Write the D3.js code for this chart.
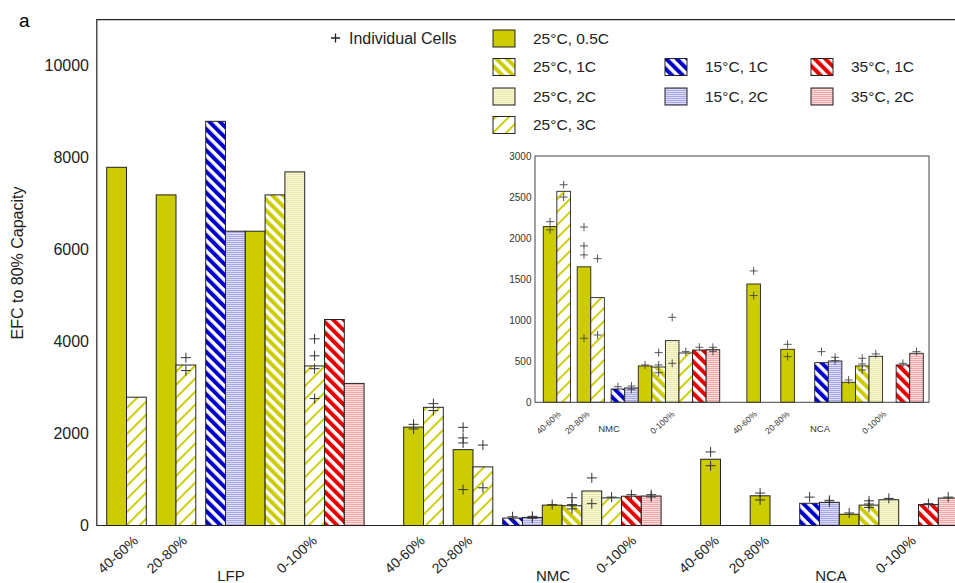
<!DOCTYPE html>
<html>
<head>
<meta charset="utf-8">
<script src="https://cdn.jsdelivr.net/npm/d3@7"></script>
<style>
  body { margin: 0; background: #fff; }
  svg { display: block; font-family: "Liberation Sans", Arial, sans-serif; }
</style>
</head>
<body>
<svg id="chart" width="955" height="583"></svg>
<script>
// conditions used in the 0-100% groups (left to right)
const conditions = ["15°C, 1C", "15°C, 2C", "25°C, 0.5C", "25°C, 1C", "25°C, 2C", "25°C, 3C", "35°C, 1C", "35°C, 2C"];
// conditions used in the 40-60% and 20-80% groups
const partialConds = ["25°C, 0.5C", "25°C, 3C"];
const chemistries = ["LFP", "NMC", "NCA"];
const socRanges = ["40-60%", "20-80%", "0-100%"];
const mainTicks = [0, 2000, 4000, 6000, 8000, 10000];
const insetTicks = [0, 500, 1000, 1500, 2000, 2500, 3000];

// EFC to 80% capacity: [40-60%], [20-80%], [0-100%]
const lfpEFC = [[7790, 2790], [7190, 3490], [8790, 6400, 6400, 7190, 7690, 3470, 4480, 3090]];
const nmcEFC = [[2140, 2570], [1650, 1275], [162, 175, 443, 430, 751, 601, 637, 641]];
const ncaEFC = [[1441, null], [646, null], [483, 503, 244, 443, 560, null, 455, 597]];

// individual cells (+ markers)
const lfpCells = [[[], []], [[], [3650, 3370]], [[], [], [], [], [], [4060, 3690, 3410, 2760], [], []]];
const nmcCells = [[[2200, 2100], [2650, 2500]], [[2135, 1905, 1795, 780], [1750, 820]],
  [[190], [199, 158], [455], [605, 455, 361], [1035, 475], [617], [670], [670, 621]]];
const ncaCells = [[[1600, 1300], []], [[706, 556], []],
  [[617], [548, 508], [272], [536, 467, 394], [589], [], [475], [617]]];

// legend layout: [condition, column, row]
const legendItems = [
  ["25°C, 0.5C", 0, 0], ["25°C, 1C", 0, 1], ["25°C, 2C", 0, 2], ["25°C, 3C", 0, 3],
  ["15°C, 1C", 1, 1], ["15°C, 2C", 1, 2], ["35°C, 1C", 2, 1], ["35°C, 2C", 2, 2]
];

// label positions, in bar slots
const mainTickSlot = [[1.63, 4.11, 10.67], [16.12, 18.51, 26.8], [30.98, 33.5, 40.92]];
const mainChemSlot = [6.28, 22.54, 36.58];
const insetTickSlot = [null, [16.34, 18.45, 24.72], [30.8, 33.19, 40.32]];
const insetChemSlot = [null, 19.84, 35.39];

const allEFC = [lfpEFC, nmcEFC, ncaEFC];
const allCells = [lfpCells, nmcCells, ncaCells];
const groupStart = [0, 2.5, 5];

// flatten into bars
const bars = [];
allEFC.forEach((chem, c) => {
  chem.forEach((vals, r) => {
    const conds = r < 2 ? partialConds : conditions;
    vals.forEach((v, i) => {
      if (v == null) return;
      bars.push({ chem: c, cond: conds[i], value: v, slot: c * 15 + groupStart[r] + i, cells: allCells[c][r][i] });
    });
  });
});

const svg = d3.select("#chart");
const defs = svg.append("defs");

const olive = "#cccc00", blue = "#0000cc", red = "#e60000";

function stripes(id, color, period, band, angle) {
  const p = defs.append("pattern").attr("id", id)
    .attr("patternUnits", "userSpaceOnUse")
    .attr("width", period).attr("height", period)
    .attr("patternTransform", `rotate(${angle})`);
  p.append("rect").attr("width", period).attr("height", period).attr("fill", "#fff");
  p.append("rect").attr("width", band).attr("height", period).attr("fill", color);
}
function lines(id, base, line) {
  const p = defs.append("pattern").attr("id", id)
    .attr("patternUnits", "userSpaceOnUse").attr("width", 4).attr("height", 2);
  p.append("rect").attr("width", 4).attr("height", 2).attr("fill", base);
  p.append("rect").attr("width", 4).attr("height", 1).attr("fill", line);
}
stripes("y1c", olive, 7.5, 4, -45);
stripes("y3c", olive, 9.2, 2, 45);
stripes("b1c", blue, 7.5, 4, -45);
stripes("r1c", red, 7.5, 4, -45);
lines("y2c", "#f8f8d8", "#e8e8a8");
lines("b2c", "#dcdcf8", "#a8a8e4");
lines("r2c", "#fadcdc", "#eea8a8");

const fills = {
  "25°C, 0.5C": olive, "25°C, 1C": "url(#y1c)", "25°C, 2C": "url(#y2c)", "25°C, 3C": "url(#y3c)",
  "15°C, 1C": "url(#b1c)", "15°C, 2C": "url(#b2c)", "35°C, 1C": "url(#r1c)", "35°C, 2C": "url(#r2c)"
};

const ink = "#222";

// ---------- main chart ----------
const x = d3.scaleLinear().domain([-0.5, 43.5]).range([96.8, 96.8 + 44 * 19.8]);
const y = d3.scaleLinear().domain([0, 11000]).range([525.5, 19.7]);

const main = svg.append("g");

main.selectAll("rect.bar").data(bars).join("rect")
  .attr("class", "bar")
  .attr("x", d => x(d.slot))
  .attr("width", d => x(d.slot + 1) - x(d.slot))
  .attr("y", d => y(d.value))
  .attr("height", d => y(0) - y(d.value))
  .attr("fill", d => fills[d.cond])
  .attr("stroke", ink).attr("stroke-width", 1);

const crossMain = bars.flatMap(b => b.cells.map(v => ({ slot: b.slot + 0.5, v })));
main.selectAll("path.cell").data(crossMain).join("path")
  .attr("class", "cell")
  .attr("d", d => `M${x(d.slot) - 5},${y(d.v)}h10M${x(d.slot)},${y(d.v) - 5}v10`)
  .attr("stroke", "#333").attr("stroke-width", 1).attr("fill", "none");

// frame
main.append("path")
  .attr("d", `M955,${y(11000)}H${x(-0.5)}V${y(0)}H955`)
  .attr("fill", "none").attr("stroke", ink).attr("stroke-width", 1.2);

main.selectAll("text.ytick").data(mainTicks).join("text")
  .attr("class", "ytick")
  .attr("x", 89).attr("y", d => y(d)).attr("dy", "0.35em")
  .attr("text-anchor", "end").attr("font-size", 16).attr("fill", ink)
  .text(d => d);

main.append("text")
  .attr("transform", "translate(23,263) rotate(-90)")
  .attr("text-anchor", "middle").attr("font-size", 16).attr("fill", ink)
  .text("EFC to 80% Capacity");

main.append("text").attr("x", 19).attr("y", 27).attr("font-size", 19).attr("fill", "#000").text("a");

mainTickSlot.forEach((row, c) => {
  row.forEach((s, r) => {
    main.append("text")
      .attr("transform", `translate(${x(s)},542) rotate(-42)`)
      .attr("text-anchor", "end").attr("font-size", 14).attr("fill", ink)
      .text(socRanges[r]);
  });
  main.append("text")
    .attr("x", x(mainChemSlot[c])).attr("y", 581)
    .attr("text-anchor", "middle").attr("font-size", 15).attr("fill", ink)
    .text(chemistries[c]);
});

// ---------- legend ----------
const legend = svg.append("g");
legend.append("path").attr("d", "M331,38h9M335.5,33.5v9").attr("stroke", ink).attr("stroke-width", 1.3);
legend.append("text").attr("x", 349).attr("y", 38).attr("dy", "0.35em")
  .attr("font-size", 16).attr("fill", ink).text("Individual Cells");

const colX = [493, 665, 811];
const rowY = [38.5, 67, 96.5, 125];
legendItems.forEach(([cond, col, row]) => {
  legend.append("rect")
    .attr("x", colX[col]).attr("y", rowY[row] - 8.5)
    .attr("width", 22).attr("height", 17)
    .attr("fill", fills[cond]).attr("stroke", ink).attr("stroke-width", 1);
  legend.append("text")
    .attr("x", colX[col] + 40).attr("y", rowY[row]).attr("dy", "0.35em")
    .attr("font-size", 15.5).attr("fill", ink).text(cond);
});

// ---------- inset ----------
const xi = d3.scaleLinear().domain([14.39, 43.42]).range([535, 929]);
const yi = d3.scaleLinear().domain([0, 3000]).range([402.3, 156]);
const inset = svg.append("g");
inset.append("rect")
  .attr("x", xi(14.39)).attr("y", yi(3000))
  .attr("width", xi(43.42) - xi(14.39)).attr("height", yi(0) - yi(3000))
  .attr("fill", "#fff");

const insetBars = bars.filter(b => b.chem > 0);
inset.selectAll("rect.bar").data(insetBars).join("rect")
  .attr("class", "bar")
  .attr("x", d => xi(d.slot))
  .attr("width", d => xi(d.slot + 1) - xi(d.slot))
  .attr("y", d => yi(d.value))
  .attr("height", d => yi(0) - yi(d.value))
  .attr("fill", d => fills[d.cond])
  .attr("stroke", ink).attr("stroke-width", 0.9);

const crossInset = insetBars.flatMap(b => b.cells.map(v => ({ slot: b.slot + 0.5, v })));
inset.selectAll("path.cell").data(crossInset).join("path")
  .attr("class", "cell")
  .attr("d", d => `M${xi(d.slot) - 4},${yi(d.v)}h8M${xi(d.slot)},${yi(d.v) - 4}v8`)
  .attr("stroke", "#444").attr("stroke-width", 0.9).attr("fill", "none");

inset.append("rect")
  .attr("x", xi(14.39)).attr("y", yi(3000))
  .attr("width", xi(43.42) - xi(14.39)).attr("height", yi(0) - yi(3000))
  .attr("fill", "none").attr("stroke", "#444").attr("stroke-width", 1);

inset.selectAll("text.ytick").data(insetTicks).join("text")
  .attr("class", "ytick")
  .attr("x", 531.5).attr("y", d => yi(d)).attr("dy", "0.35em")
  .attr("text-anchor", "end").attr("font-size", 10).attr("fill", "#333")
  .text(d => d);

[1, 2].forEach(c => {
  insetTickSlot[c].forEach((s, r) => {
    inset.append("text")
      .attr("transform", `translate(${xi(s)},415) rotate(-42)`)
      .attr("text-anchor", "end").attr("font-size", 8.5).attr("fill", "#333")
      .text(socRanges[r]);
  });
  inset.append("text")
    .attr("x", xi(insetChemSlot[c])).attr("y", 432)
    .attr("text-anchor", "middle").attr("font-size", 9.5).attr("fill", "#333")
    .text(chemistries[c]);
});
</script>
</body>
</html>
